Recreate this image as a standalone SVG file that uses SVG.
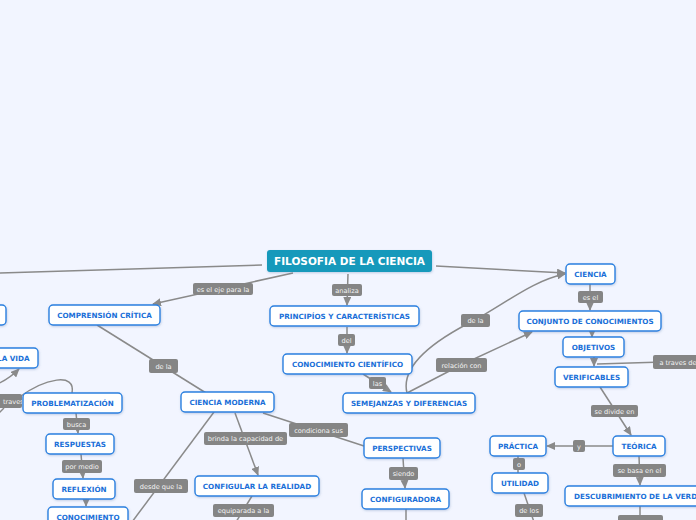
<svg xmlns="http://www.w3.org/2000/svg" width="696" height="520" viewBox="0 0 696 520">
<defs>
<marker id="ah" markerUnits="userSpaceOnUse" markerWidth="9" markerHeight="8" refX="8" refY="4" orient="auto"><path d="M0,0 L9,4 L0,8 z" fill="#8a8a8a"/></marker>
<filter id="sh" x="-10%" y="-20%" width="120%" height="160%"><feDropShadow dx="0.5" dy="1" stdDeviation="0.8" flood-color="#6080b0" flood-opacity="0.35"/></filter>
</defs>
<style>
.n rect{fill:#fff;stroke:#2b80e0;stroke-width:1.4;filter:url(#sh)}
.n text{font-family:"DejaVu Sans",Verdana,sans-serif;font-weight:bold;font-size:7.2px;fill:#1a6fd8;text-anchor:middle}
.l rect{fill:#858585}
.l text{font-family:"DejaVu Sans",Verdana,sans-serif;font-size:6.6px;fill:#f4f4f4;text-anchor:middle}
.c path{fill:none;stroke:#8a8a8a;stroke-width:1.5}
</style>
<rect width="696" height="520" fill="#f2f5ff"/>
<g class="c" id="connectors">
<path d="M262,265 L-2,273"/>
<path d="M293,273 L153,304" marker-end="url(#ah)"/>
<path d="M348,274 L347,305" marker-end="url(#ah)"/>
<path d="M347,327 L347,353" marker-end="url(#ah)"/>
<path d="M363,374 L391,392" marker-end="url(#ah)"/>
<path d="M436,266 L565,273" marker-end="url(#ah)"/>
<path d="M407,393 C400,365 435,340 475,320 C510,300 535,280 565,274" marker-end="url(#ah)"/>
<path d="M407,393 L461,365 L532,332" marker-end="url(#ah)"/>
<path d="M590,284 L590,310" marker-end="url(#ah)"/>
<path d="M592,329 L592,337" marker-end="url(#ah)"/>
<path d="M594,357 L594,366" marker-end="url(#ah)"/>
<path d="M700,361 L597,364"/>
<path d="M600,387 L631,435" marker-end="url(#ah)"/>
<path d="M613,446 L547,446" marker-end="url(#ah)"/>
<path d="M639,456 L640,485" marker-end="url(#ah)"/>
<path d="M640,506 L640,516"/>
<path d="M518,456 L518,473"/>
<path d="M524,493 L534,522"/>
<path d="M97,325 L206,393"/>
<path d="M214,412 L132,522"/>
<path d="M235,413 L258,475" marker-end="url(#ah)"/>
<path d="M263,413 L364,446"/>
<path d="M403,458 L405,488" marker-end="url(#ah)"/>
<path d="M406,509 L406,522"/>
<path d="M252,496 L236,522"/>
<path d="M76,413 L78,433" marker-end="url(#ah)"/>
<path d="M81,454 L83,478" marker-end="url(#ah)"/>
<path d="M86,499 L86,506" marker-end="url(#ah)"/>
<path d="M72,393 C76,372 45,378 18,398"/>
<path d="M-5,385 C5,381 12,376 19,369" marker-end="url(#ah)"/>
<path d="M4,408 L-4,416"/>
</g>
<g id="labels">
<g class="l"><rect x="193" y="283" width="60" height="12" rx="2"/><text x="223" y="291.5">es el eje para la</text></g>
<g class="l"><rect x="332" y="284" width="30" height="12" rx="2"/><text x="347" y="292.5">analiza</text></g>
<g class="l"><rect x="338" y="334" width="17" height="12" rx="2"/><text x="346.5" y="342.5">del</text></g>
<g class="l"><rect x="369" y="377" width="17" height="12" rx="2"/><text x="377.5" y="385.5">las</text></g>
<g class="l"><rect x="461" y="314" width="29" height="13" rx="2"/><text x="475.5" y="323">de la</text></g>
<g class="l"><rect x="436" y="358" width="51" height="14" rx="2"/><text x="461.5" y="367.5">relación con</text></g>
<g class="l"><rect x="578" y="291" width="25" height="12" rx="2"/><text x="590.5" y="299.5">es el</text></g>
<g class="l"><rect x="653" y="355" width="50" height="14" rx="2"/><text x="678" y="364.5">a traves de</text></g>
<g class="l"><rect x="149" y="359" width="29" height="14" rx="2"/><text x="163.5" y="368.5">de la</text></g>
<g class="l"><rect x="-20" y="394" width="42" height="14" rx="2"/><text x="3" y="403.5" style="text-anchor:start">traves</text></g>
<g class="l"><rect x="63" y="418" width="27" height="12" rx="2"/><text x="76.5" y="426.5">busca</text></g>
<g class="l"><rect x="62" y="460" width="40" height="13" rx="2"/><text x="82" y="469">por medio</text></g>
<g class="l"><rect x="134" y="479" width="54" height="14" rx="2"/><text x="161" y="488.5">desde que la</text></g>
<g class="l"><rect x="204" y="432" width="83" height="13" rx="2"/><text x="245.5" y="441">brinda la capacidad de</text></g>
<g class="l"><rect x="289" y="423" width="59" height="14" rx="2"/><text x="318.5" y="432.5">condiciona sus</text></g>
<g class="l"><rect x="389" y="467" width="29" height="13" rx="2"/><text x="403.5" y="476">siendo</text></g>
<g class="l"><rect x="213" y="504" width="61" height="13" rx="2"/><text x="243.5" y="513">equiparada a la</text></g>
<g class="l"><rect x="591" y="405" width="47" height="12" rx="2"/><text x="614.5" y="413.5">se divide en</text></g>
<g class="l"><rect x="573" y="440" width="12" height="12" rx="2"/><text x="579" y="448.5">y</text></g>
<g class="l"><rect x="613" y="464" width="53" height="13" rx="2"/><text x="639.5" y="473">se basa en el</text></g>
<g class="l"><rect x="513" y="458" width="12" height="12" rx="2"/><text x="519" y="466.5">o</text></g>
<g class="l"><rect x="515" y="504" width="28" height="13" rx="2"/><text x="529" y="513">de los</text></g>
<g class="l"><rect x="618" y="515" width="45" height="12" rx="2"/></g>
</g>
<g id="n-filosofia"><rect x="267" y="250" width="165" height="22" rx="3" fill="#1799bb" filter="url(#sh)"/><text x="349.5" y="265" font-family="DejaVu Sans, Verdana, sans-serif" font-weight="bold" font-size="10.5" fill="#fff" text-anchor="middle">FILOSOFIA DE LA CIENCIA</text></g>
<g class="n" id="n-left"><rect x="-40" y="305" width="46" height="20" rx="4"/></g>
<g class="n" id="n-vida"><rect x="-40" y="348" width="78" height="20" rx="4"/><text x="29.5" y="361" style="text-anchor:end">LA VIDA</text></g>
<g class="n" id="n-comprension"><rect x="49" y="305" width="111" height="20" rx="4"/><text x="104.5" y="318">COMPRENSIÓN CRÍTICA</text></g>
<g class="n" id="n-problematizacion"><rect x="23" y="393" width="99" height="20" rx="4"/><text x="72.5" y="406">PROBLEMATIZACIÓN</text></g>
<g class="n" id="n-respuestas"><rect x="46" y="434" width="68" height="20" rx="4"/><text x="80" y="447">RESPUESTAS</text></g>
<g class="n" id="n-reflexion"><rect x="53" y="479" width="62" height="20" rx="4"/><text x="84" y="492">REFLEXIÓN</text></g>
<g class="n" id="n-conocimiento"><rect x="48" y="507" width="80" height="20" rx="4"/><text x="88" y="520">CONOCIMIENTO</text></g>
<g class="n" id="n-cienciamoderna"><rect x="181" y="392" width="93" height="20" rx="4"/><text x="227.5" y="405">CIENCIA MODERNA</text></g>
<g class="n" id="n-configular"><rect x="195" y="476" width="124" height="20" rx="4"/><text x="257" y="489">CONFIGULAR LA REALIDAD</text></g>
<g class="n" id="n-principios"><rect x="270" y="306" width="149" height="20" rx="4"/><text x="344.5" y="319">PRINCIPÍOS Y CARACTERÍSTICAS</text></g>
<g class="n" id="n-conocimientocientifico"><rect x="283" y="354" width="129" height="20" rx="4"/><text x="347.5" y="367">CONOCIMIENTO CIENTÍFICO</text></g>
<g class="n" id="n-semejanzas"><rect x="343" y="393" width="132" height="20" rx="4"/><text x="409" y="406">SEMEJANZAS Y DIFERENCIAS</text></g>
<g class="n" id="n-perspectivas"><rect x="364" y="438" width="76" height="20" rx="4"/><text x="402" y="451">PERSPECTIVAS</text></g>
<g class="n" id="n-configuradora"><rect x="362" y="489" width="87" height="20" rx="4"/><text x="405.5" y="502">CONFIGURADORA</text></g>
<g class="n" id="n-ciencia"><rect x="566" y="264" width="49" height="20" rx="4"/><text x="590.5" y="277">CIENCIA</text></g>
<g class="n" id="n-conjunto"><rect x="519" y="311" width="142" height="20" rx="4"/><text x="590" y="324">CONJUNTO DE CONOCIMIENTOS</text></g>
<g class="n" id="n-objetivos"><rect x="563" y="337" width="61" height="20" rx="4"/><text x="593.5" y="350">OBJETIVOS</text></g>
<g class="n" id="n-verificables"><rect x="555" y="367" width="73" height="20" rx="4"/><text x="591.5" y="380">VERIFICABLES</text></g>
<g class="n" id="n-practica"><rect x="490" y="436" width="56" height="20" rx="4"/><text x="518" y="449">PRÁCTICA</text></g>
<g class="n" id="n-teorica"><rect x="613" y="436" width="52" height="20" rx="4"/><text x="639" y="449">TEÓRICA</text></g>
<g class="n" id="n-utilidad"><rect x="492" y="473" width="56" height="20" rx="4"/><text x="520" y="486">UTILIDAD</text></g>
<g class="n" id="n-descubrimiento"><rect x="565" y="486" width="150" height="20" rx="4"/><text x="574" y="499" style="text-anchor:start">DESCUBRIMIENTO DE LA VERDAD</text></g>
</svg>
